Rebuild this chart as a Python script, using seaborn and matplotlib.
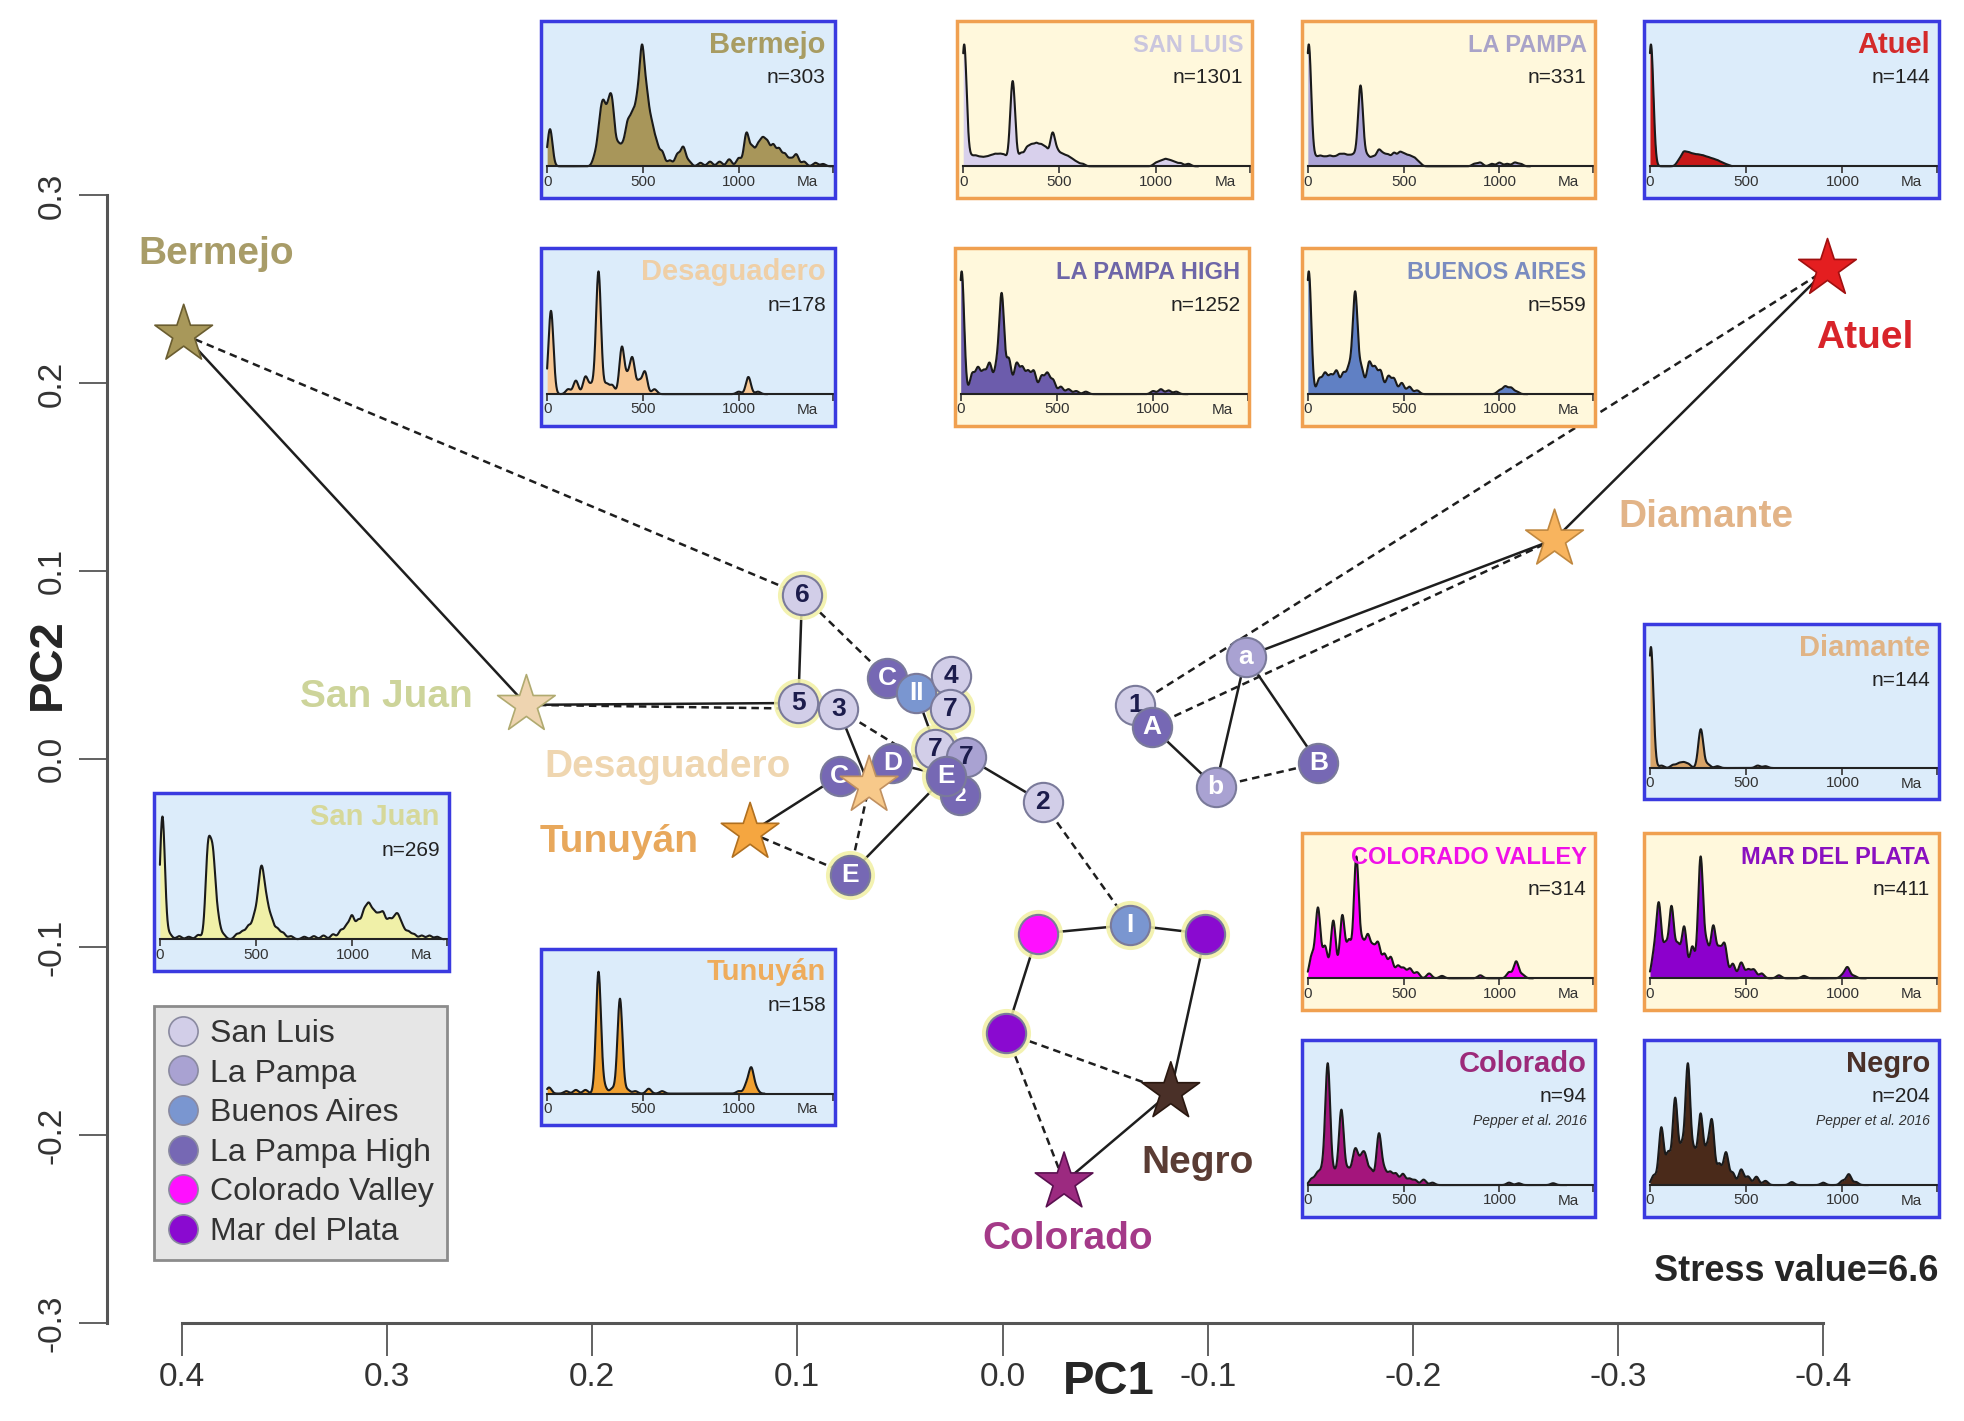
import numpy as np
import pandas as pd
import matplotlib
matplotlib.use('Agg')
import matplotlib.pyplot as plt
from matplotlib.lines import Line2D
from matplotlib.patches import Rectangle
import seaborn as sns

#%%
'''DATA'''
# sediment sources (stars) on the MDS map
star_names = ['Bermejo', 'San Juan', 'Desaguadero', 'Tunuyán', 'Diamante', 'Atuel', 'Negro', 'Colorado']
star_pc1 = [0.399, 0.232, 0.065, 0.123, -0.269, -0.402, -0.082, -0.030]
star_pc2 = [0.226, 0.029, -0.014, -0.039, 0.117, 0.261, -0.177, -0.225]
star_lab_pc1 = [0.383, 0.300, 0.163, 0.187, -0.343, -0.420, -0.095, -0.032]
star_lab_pc2 = [0.269, 0.033, -0.004, -0.044, 0.129, 0.224, -0.215, -0.255]

# samples (circles)
circ_key = ['6', '5', '3', 'C1', 'II', '4', '7a', '7b', '7c', 'D', 'C2', '2a', 'E1', '2b', 'E2',
            '1', 'A', 'a', 'b', 'B', 'I', 'CV', 'MP1', 'MP2']
circ_text = ['6', '5', '3', 'C', 'II', '4', '7', '7', '7', 'D', 'C', '2', 'E', '2', 'E',
             '1', 'A', 'a', 'b', 'B', 'I', '', '', '']
circ_group = ['San Luis', 'San Luis', 'San Luis', 'La Pampa High', 'Buenos Aires', 'San Luis',
              'San Luis', 'San Luis', 'La Pampa', 'La Pampa High', 'La Pampa High', 'La Pampa High',
              'La Pampa High', 'San Luis', 'La Pampa High', 'San Luis', 'La Pampa High', 'La Pampa',
              'La Pampa', 'La Pampa High', 'Buenos Aires', 'Colorado Valley', 'Mar del Plata', 'Mar del Plata']
circ_pc1 = [0.0977, 0.0995, 0.0800, 0.0562, 0.0421, 0.0250, 0.0256, 0.0330, 0.0177, 0.0537, 0.0794,
            0.0205, 0.0275, -0.0195, 0.0745, -0.0647, -0.0727, -0.1185, -0.1038, -0.1539, -0.0623,
            -0.0171, -0.0989, -0.0018]
circ_pc2 = [0.0875, 0.0300, 0.0267, 0.0434, 0.0354, 0.0441, 0.0267, 0.0053, 0.0013, -0.0020, -0.0087,
            -0.0190, -0.0087, -0.0227, -0.0614, 0.0287, 0.0174, 0.0547, -0.0147, -0.0020, -0.0881,
            -0.0928, -0.0928, -0.1455]

# links between neighbours
solid_links = [('Bermejo', 'San Juan'), ('San Juan', '5'), ('6', '5'), ('3', 'Desaguadero'),
               ('II', 'E1'), ('4', '7b'), ('D', 'E1'), ('Tunuyán', 'C2'), ('E2', 'E1'), ('7c', '2b'),
               ('I', 'CV'), ('I', 'MP1'), ('CV', 'MP2'), ('MP1', 'Negro'), ('Colorado', 'Negro'),
               ('1', 'A'), ('A', 'b'), ('a', 'b'), ('a', 'B'), ('a', 'Diamante'), ('Diamante', 'Atuel')]
dashed_links = [('Bermejo', '6'), ('6', 'C1'), ('San Juan', '3'), ('3', 'E1'), ('Tunuyán', 'E2'),
                ('E2', 'Desaguadero'), ('2b', 'I'), ('MP2', 'Negro'), ('MP2', 'Colorado'), ('b', 'B'),
                ('1', 'Atuel'), ('A', 'Diamante')]

legend_groups = ['San Luis', 'La Pampa', 'Buenos Aires', 'La Pampa High', 'Colorado Valley', 'Mar del Plata']

x_ticks = [0.4, 0.3, 0.2, 0.1, 0.0, -0.1, -0.2, -0.3, -0.4]
x_ticklabels = ['0.4', '0.3', '0.2', '0.1', '0.0', '-0.1', '-0.2', '-0.3', '-0.4']
y_ticks = [0.3, 0.2, 0.1, 0.0, -0.1, -0.2, -0.3]
y_ticklabels = ['0.3', '0.2', '0.1', '0.0', '-0.1', '-0.2', '-0.3']

# age spectra (Ma), with relative weights
ages_bermejo = [15, 250, 275, 295, 320, 340, 370, 395, 420, 445, 470, 495, 520, 545, 570, 600, 640,
                680, 710, 740, 800, 850, 900, 950, 1000, 1040, 1070, 1100, 1125, 1150, 1180, 1210,
                1240, 1270, 1300, 1340, 1400, 1440]
wts_bermejo = [0.32, 0.08, 0.3, 0.42, 0.38, 0.45, 0.16, 0.14, 0.32, 0.36, 0.45, 0.9, 0.5, 0.3, 0.18,
               0.12, 0.05, 0.1, 0.16, 0.04, 0.03, 0.04, 0.04, 0.06, 0.07, 0.28, 0.15, 0.16, 0.2, 0.18,
               0.17, 0.14, 0.1, 0.06, 0.1, 0.04, 0.03, 0.02]
ages_sanluis = [5, 40, 65, 90, 115, 140, 165, 190, 215, 257, 300, 330, 355, 380, 405, 430, 464, 490,
                515, 540, 565, 590, 620, 1000, 1025, 1050, 1075, 1100, 1130, 1170]
wts_sanluis = [1.0, 0.07, 0.07, 0.06, 0.06, 0.07, 0.08, 0.08, 0.08, 0.7, 0.1, 0.13, 0.14, 0.15, 0.14,
               0.13, 0.26, 0.1, 0.08, 0.07, 0.05, 0.03, 0.02, 0.025, 0.035, 0.05, 0.04, 0.03, 0.025, 0.02]
ages_lapampa = [5, 40, 65, 90, 115, 140, 165, 190, 215, 240, 275, 310, 340, 370, 395, 420, 450, 480,
                505, 530, 555, 580, 870, 900, 960, 1000, 1040, 1080, 1110]
wts_lapampa = [1.0, 0.06, 0.07, 0.06, 0.07, 0.06, 0.08, 0.08, 0.07, 0.08, 0.66, 0.08, 0.07, 0.12, 0.08,
               0.08, 0.1, 0.1, 0.08, 0.07, 0.06, 0.03, 0.02, 0.03, 0.02, 0.03, 0.02, 0.03, 0.02]
ages_atuel = [5, 150, 175, 200, 225, 250, 275, 300, 325, 350, 375, 400]
wts_atuel = [1.0, 0.04, 0.1, 0.09, 0.08, 0.075, 0.07, 0.06, 0.05, 0.04, 0.025, 0.012]
ages_desag = [20, 110, 150, 200, 230, 268, 310, 340, 390, 420, 445, 480, 510, 560, 1000, 1050, 1100]
wts_desag = [0.68, 0.04, 0.11, 0.14, 0.07, 1.0, 0.08, 0.07, 0.38, 0.12, 0.28, 0.1, 0.18, 0.04, 0.02,
             0.14, 0.02]
ages_lphigh = [5, 60, 90, 120, 150, 185, 213, 250, 290, 320, 350, 380, 420, 450, 480, 520, 560, 600,
               650, 1000, 1040, 1080, 1120]
wts_lphigh = [1.0, 0.16, 0.2, 0.17, 0.24, 0.2, 0.8, 0.28, 0.24, 0.2, 0.17, 0.18, 0.14, 0.16, 0.11,
              0.06, 0.04, 0.025, 0.02, 0.025, 0.04, 0.03, 0.02]
ages_bsas = [5, 60, 90, 120, 150, 185, 215, 247, 280, 320, 350, 380, 420, 450, 490, 530, 570, 1000,
             1030, 1060, 1090]
wts_bsas = [1.0, 0.12, 0.16, 0.14, 0.18, 0.16, 0.2, 0.82, 0.2, 0.25, 0.2, 0.18, 0.14, 0.12, 0.09, 0.06,
            0.03, 0.03, 0.06, 0.05, 0.02]
ages_diamante = [5, 60, 120, 150, 175, 200, 264, 300, 350, 560, 600]
wts_diamante = [1.0, 0.02, 0.025, 0.035, 0.04, 0.03, 0.32, 0.03, 0.015, 0.02, 0.015]
ages_sanjuan = [13, 50, 100, 150, 200, 250, 275, 300, 330, 400, 430, 460, 490, 515, 532, 555, 580, 610,
                640, 680, 750, 800, 850, 900, 940, 970, 998, 1030, 1060, 1085, 1110, 1135, 1160,
                1190, 1215, 1236, 1260, 1290, 1320, 1360, 1400, 1440]
wts_sanjuan = [1.0, 0.04, 0.025, 0.02, 0.035, 0.7, 0.62, 0.16, 0.035, 0.04, 0.06, 0.1, 0.16, 0.28,
               0.42, 0.24, 0.14, 0.08, 0.05, 0.025, 0.02, 0.025, 0.03, 0.04, 0.07, 0.1, 0.18, 0.14,
               0.2, 0.24, 0.18, 0.16, 0.19, 0.14, 0.12, 0.16, 0.09, 0.06, 0.04, 0.03, 0.03, 0.02]
ages_tunuyan = [10, 100, 150, 200, 268, 300, 340, 380, 420, 460, 530, 600, 1000, 1040, 1065, 1090]
wts_tunuyan = [0.05, 0.02, 0.03, 0.03, 1.0, 0.05, 0.04, 0.78, 0.03, 0.02, 0.04, 0.02, 0.02, 0.07,
               0.2, 0.04]
ages_colvalley = [20, 53, 90, 133, 180, 215, 253, 285, 313, 340, 367, 400, 433, 470, 500, 533, 570,
                  633, 700, 900, 1050, 1087, 1120]
wts_colvalley = [0.18, 0.58, 0.26, 0.48, 0.52, 0.3, 1.0, 0.26, 0.32, 0.22, 0.27, 0.19, 0.17, 0.1,
                 0.08, 0.08, 0.05, 0.04, 0.02, 0.025, 0.05, 0.14, 0.03]
ages_mdp = [20, 46, 80, 112, 145, 178, 220, 263, 295, 329, 360, 388, 430, 474, 510, 540, 580, 670,
            800, 1000, 1026, 1060]
wts_mdp = [0.18, 0.6, 0.26, 0.58, 0.26, 0.42, 0.26, 1.0, 0.26, 0.42, 0.22, 0.27, 0.12, 0.13, 0.07,
           0.07, 0.04, 0.025, 0.02, 0.025, 0.09, 0.02]
ages_colorado = [20, 50, 75, 104, 140, 175, 210, 240, 255, 280, 300, 330, 371, 400, 430, 460, 496,
                 530, 560, 604, 650, 1050, 1100, 1280]
wts_colorado = [0.05, 0.09, 0.1, 1.0, 0.1, 0.62, 0.12, 0.17, 0.18, 0.17, 0.2, 0.12, 0.42, 0.11, 0.1,
                0.09, 0.09, 0.05, 0.04, 0.045, 0.02, 0.02, 0.015, 0.015]
ages_negro = [20, 59, 95, 131, 165, 197, 230, 263, 295, 322, 360, 395, 430, 474, 510, 553, 600, 737,
              900, 1000, 1033, 1070]
wts_negro = [0.08, 0.48, 0.26, 0.72, 0.3, 1.0, 0.26, 0.58, 0.26, 0.52, 0.17, 0.27, 0.1, 0.13, 0.07,
             0.07, 0.035, 0.025, 0.02, 0.035, 0.09, 0.025]

inset_titles = ['Bermejo', 'SAN LUIS', 'LA PAMPA', 'Atuel', 'Desaguadero', 'LA PAMPA HIGH',
                'BUENOS AIRES', 'Diamante', 'San Juan', 'Tunuyán', 'COLORADO VALLEY',
                'MAR DEL PLATA', 'Colorado', 'Negro']
inset_n = ['n=303', 'n=1301', 'n=331', 'n=144', 'n=178', 'n=1252', 'n=559', 'n=144', 'n=269',
           'n=158', 'n=314', 'n=411', 'n=94', 'n=204']
inset_ages = [ages_bermejo, ages_sanluis, ages_lapampa, ages_atuel, ages_desag, ages_lphigh, ages_bsas,
              ages_diamante, ages_sanjuan, ages_tunuyan, ages_colvalley, ages_mdp, ages_colorado, ages_negro]
inset_wts = [wts_bermejo, wts_sanluis, wts_lapampa, wts_atuel, wts_desag, wts_lphigh, wts_bsas,
             wts_diamante, wts_sanjuan, wts_tunuyan, wts_colvalley, wts_mdp, wts_colorado, wts_negro]
inset_note = ['', '', '', '', '', '', '', '', '', '', '', '', 'Pepper et al. 2016', 'Pepper et al. 2016']

#%%
'''STYLE'''
star_colors = {'Bermejo': '#a8985a', 'San Juan': '#eed4b0', 'Desaguadero': '#f7c98a',
               'Tunuyán': '#f5a640', 'Diamante': '#f8b45e', 'Atuel': '#e41e20',
               'Negro': '#4a3028', 'Colorado': '#9c2a80'}
star_edges = {'Bermejo': '#6a5d30', 'San Juan': '#b0aa70', 'Desaguadero': '#c09060',
              'Tunuyán': '#b07020', 'Diamante': '#c08840', 'Atuel': '#a01010',
              'Negro': '#2a1810', 'Colorado': '#5a1050'}
label_colors = {'Bermejo': '#a89c68', 'San Juan': '#cdd49a', 'Desaguadero': '#efd6b0',
                'Tunuyán': '#e8a85c', 'Diamante': '#e2b488', 'Atuel': '#d8242a',
                'Negro': '#5a3c34', 'Colorado': '#a43a88'}
group_colors = {'San Luis': '#d2cee8', 'La Pampa': '#a9a2d2', 'Buenos Aires': '#7a96d0',
                'La Pampa High': '#7668b4', 'Colorado Valley': '#ff10ff', 'Mar del Plata': '#8a0ad0'}
halo_keys = {'6', '5', '7a', '7b', 'E1', 'E2', 'I', 'CV', 'MP1', 'MP2'}
white_text = {'C1', 'II', 'D', 'C2', 'E1', '2a', 'E2', 'A', 'a', 'b', 'B', 'I'}
hidden_text = {'2a'}   # number mostly covered by the neighbouring circle

# inset boxes in pixels of a 1568 x 1134 canvas: (x0, y0, x1, y1)
W, H = 1568, 1134
inset_boxes = [(432, 17, 666, 158), (764, 17, 999, 158), (1039, 17, 1273, 158), (1312, 17, 1547, 158),
               (432, 198, 666, 340), (762, 198, 997, 340), (1039, 198, 1273, 340), (1312, 498, 1547, 638),
               (123, 633, 358, 775), (432, 757, 666, 898), (1039, 665, 1273, 806), (1312, 665, 1547, 806),
               (1039, 830, 1273, 971), (1312, 830, 1547, 971)]
inset_theme = ['blue', 'cream', 'cream', 'blue', 'blue', 'cream', 'cream', 'blue', 'blue', 'blue',
               'cream', 'cream', 'blue', 'blue']
inset_fill = ['#a8965a', '#d8d0ec', '#aca4d6', '#c81818', '#f8c894', '#6c5cac', '#6080c4', '#d8a468',
              '#f0f0a8', '#f0a030', '#ff00ff', '#8c00cc', '#a4157c', '#4a2a1a']
inset_tcol = ['#a89c62', '#cac6de', '#a9a3c8', '#d42a2a', '#efcfa6', '#6e66a8', '#7a8cc0', '#e0b486',
              '#d6d89a', '#eeac5c', '#f010e8', '#8a10c0', '#9c2a7a', '#4a3028']
theme_bg = {'blue': '#dcecfa', 'cream': '#fff8dc'}
theme_edge = {'blue': '#3a3ae0', 'cream': '#f0a050'}
narrow = ['Liberation Sans Narrow', 'Liberation Sans', 'DejaVu Sans']

sns.set_style('ticks')
plt.rcParams['font.family'] = ['Liberation Sans', 'DejaVu Sans']

#%%
'''MAIN MAP'''
fig = plt.figure(figsize=(19.65, 14.21), dpi=100)
ax = fig.add_axes([85 / W, 1 - 1056 / H, 1 - 85 / W, 1056 / H])

star_df = pd.DataFrame({'name': star_names, 'pc1': star_pc1, 'pc2': star_pc2})
circ_df = pd.DataFrame({'key': circ_key, 'text': circ_text, 'group': circ_group,
                        'pc1': circ_pc1, 'pc2': circ_pc2})

pos = {n: (x, y) for n, x, y in zip(star_names, star_pc1, star_pc2)}
pos.update({k: (x, y) for k, x, y in zip(circ_key, circ_pc1, circ_pc2)})

for a, b in solid_links:
    ax.plot([pos[a][0], pos[b][0]], [pos[a][1], pos[b][1]], color='#1e1e1e', lw=1.8, zorder=2)
for a, b in dashed_links:
    ax.plot([pos[a][0], pos[b][0]], [pos[a][1], pos[b][1]], color='#1e1e1e', lw=1.8,
            ls=(0, (3, 2)), zorder=2)

halo_df = circ_df[circ_df['key'].isin(halo_keys)]
ax.scatter(halo_df['pc1'], halo_df['pc2'], s=1250, color='#f2f0a4', alpha=0.85, lw=0, zorder=3)

# circles drawn one by one so that later ones cover earlier labels
for _, r in circ_df.iterrows():
    z = 4 + 0.01 * _
    sns.scatterplot(x=[r['pc1']], y=[r['pc2']], color=group_colors[r['group']], s=800,
                    edgecolor='#7a7a9a', linewidth=1.5, legend=False, zorder=z, ax=ax)
    if r['text']:
        ax.text(r['pc1'], r['pc2'], r['text'], ha='center', va='center',
                fontsize=15 if r['key'] in hidden_text else 19, fontweight='bold',
                color='white' if r['key'] in white_text else '#1c1c4c', zorder=z + 0.005)

sns.scatterplot(data=star_df, x='pc1', y='pc2', hue='name', palette=star_colors, marker='*',
                s=1900, linewidth=1.2, legend=False, zorder=6, ax=ax)
ax.collections[-1].set_edgecolors([star_edges[n] for n in star_names])

for n, x, y in zip(star_names, star_lab_pc1, star_lab_pc2):
    ax.text(x, y, n, ha='center', va='center', fontsize=28, fontweight='bold',
            color=label_colors[n], zorder=7)

ax.set_xlim(0.4366, -0.469)
ax.set_ylim(-0.3, 0.404)
ax.set_xlabel('')
ax.set_ylabel('')
ax.spines['top'].set_visible(False)
ax.spines['right'].set_visible(False)
for s in ['left', 'bottom']:
    ax.spines[s].set_color('#555555')
    ax.spines[s].set_linewidth(2.2)
ax.spines['left'].set_bounds(-0.3, 0.3)
ax.spines['bottom'].set_bounds(-0.4, 0.4)
ax.set_xticks(x_ticks, x_ticklabels)
ax.set_yticks(y_ticks, y_ticklabels)
ax.tick_params(axis='x', bottom=True, direction='out', length=24, width=1.3, color='#555555', pad=4,
               labelsize=24, labelcolor='#333333')
ax.tick_params(axis='y', left=True, direction='out', length=20, width=1.3, color='#555555', pad=8,
               labelsize=24, labelcolor='#333333')
for t in ax.get_yticklabels():
    t.set_rotation(90)
    t.set_va('center')
for t in ax.get_xticklabels() + ax.get_yticklabels():
    t.set_family(narrow)

fig.text(885 / W, 1 - 1103 / H, 'PC1', ha='center', va='center', fontsize=34, fontweight='bold')
fig.text(38 / W, 1 - 530 / H, 'PC2', ha='center', va='center', fontsize=34, fontweight='bold',
         rotation=90)
fig.text(1547 / W, 1 - 1015 / H, 'Stress value=6.6', ha='right', va='center', fontsize=26,
         fontweight='bold', family=narrow)

handles = [Line2D([], [], marker='o', ls='', markersize=21, markerfacecolor=group_colors[g],
                  markeredgecolor='#8a8aa0', markeredgewidth=1.2, label=g) for g in legend_groups]
leg = ax.legend(handles=handles, loc='upper left', bbox_to_anchor=(123 / W, 1 - 803 / H),
                bbox_transform=fig.transFigure, frameon=True, fancybox=False, facecolor='#e6e6e6',
                edgecolor='#8c8c8c', framealpha=1, fontsize=23, handletextpad=0.35, labelspacing=0.3,
                borderpad=0.4, handlelength=1.0, borderaxespad=0)
for t in leg.get_texts():
    t.set_color('#333333')
leg.get_frame().set_linewidth(2)

#%%
'''AGE SPECTRA INSETS'''
for i in range(len(inset_titles)):
    x0, y0, x1, y1 = inset_boxes[i]
    ax_in = fig.add_axes([x0 / W, 1 - y1 / H, (x1 - x0) / W, (y1 - y0) / H])
    ax_in.set_facecolor(theme_bg[inset_theme[i]])
    ages = np.asarray(inset_ages[i], float)
    wts = np.asarray(inset_wts[i], float)
    bw = 13.0 / np.sqrt(np.cov(ages, aweights=wts))
    sns.kdeplot(x=ages, weights=wts, bw_method=bw, clip=(0, 1490), gridsize=1500, fill=True,
                color=inset_fill[i], alpha=1, linewidth=0, ax=ax_in)
    sns.kdeplot(x=ages, weights=wts, bw_method=bw, clip=(0, 1490), gridsize=1500,
                color='#1a1a1a', linewidth=1.5, ax=ax_in)
    ymax = ax_in.lines[-1].get_ydata().max()
    ax_in.set_xlim(-30, 1500)
    ax_in.set_ylim(-0.26 * ymax, 1.19 * ymax)
    ax_in.set_xlabel('')
    ax_in.set_ylabel('')
    for s in ['top', 'left', 'right']:
        ax_in.spines[s].set_visible(False)
    ax_in.spines['bottom'].set_position(('data', 0))
    ax_in.spines['bottom'].set_bounds(0, 1490)
    ax_in.spines['bottom'].set_color('#222222')
    ax_in.spines['bottom'].set_linewidth(1.5)
    ax_in.set_yticks([])
    ax_in.set_xticks([0, 500, 1000, 1490], ['0', '500', '1000', ''])
    ax_in.tick_params(axis='x', bottom=True, direction='out', length=5, width=1.2, pad=1,
                      labelsize=11, colors='#333333')
    ax_in.tick_params(axis='y', left=False)
    ax_in.text(1360, 0.09, 'Ma', transform=ax_in.get_xaxis_transform(), ha='center',
               va='center', fontsize=11, color='#333333')
    caps = inset_titles[i].isupper()
    ax_in.text(0.97, 0.865, inset_titles[i], transform=ax_in.transAxes, ha='right', va='center',
               fontsize=17 if caps else 21, fontweight='bold', color=inset_tcol[i])
    ax_in.text(0.97, 0.68, inset_n[i], transform=ax_in.transAxes, ha='right', va='center',
               fontsize=15, color='#222222')
    if inset_note[i]:
        ax_in.text(0.97, 0.54, inset_note[i], transform=ax_in.transAxes, ha='right', va='center',
                   fontsize=10, style='italic', color='#333333')
    ax_in.add_patch(Rectangle((0, 0), 1, 1, transform=ax_in.transAxes, fill=False,
                              edgecolor=theme_edge[inset_theme[i]], lw=2.5, clip_on=False, zorder=10))

plt.savefig('out.png', dpi=100)
